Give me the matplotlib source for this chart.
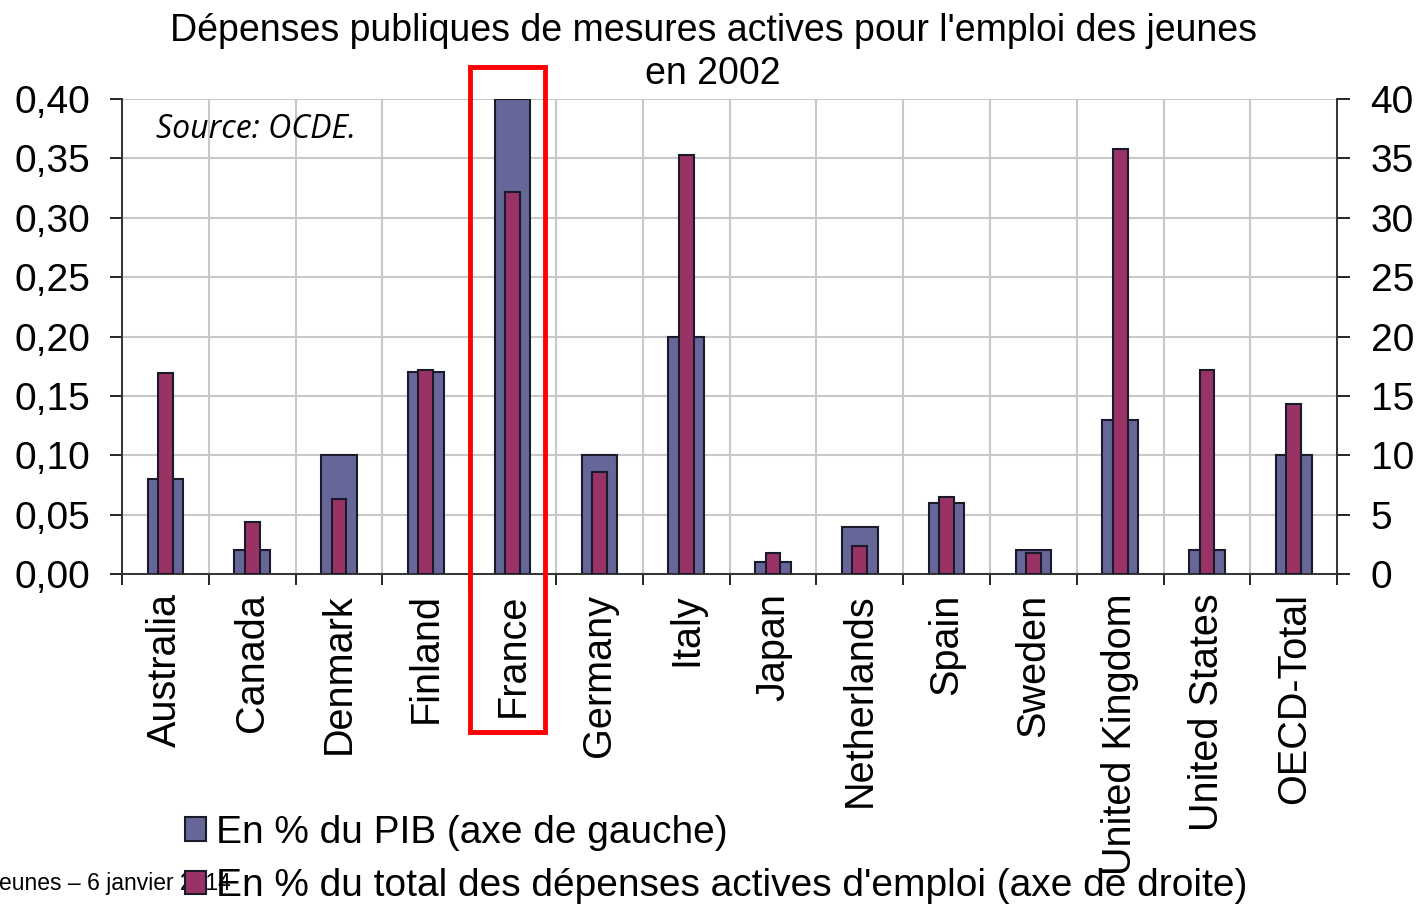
"""Youth active labour-market spending, OECD 2002: % of GDP vs % of active spending."""

import matplotlib.pyplot as plt
import numpy as np
from matplotlib.patches import Rectangle

countries = [
    "Australia", "Canada", "Denmark", "Finland", "France", "Germany", "Italy",
    "Japan", "Netherlands", "Spain", "Sweden", "United Kingdom", "United States",
    "OECD-Total",
]
pct_gdp = [0.08, 0.02, 0.10, 0.17, 0.40, 0.10, 0.20, 0.01, 0.04, 0.06, 0.02, 0.13, 0.02, 0.10]
pct_active = [16.9, 4.4, 6.3, 17.2, 32.2, 8.6, 35.3, 1.8, 2.4, 6.5, 1.8, 35.8, 17.2, 14.3]

left_ticks = [0.0, 0.05, 0.10, 0.15, 0.20, 0.25, 0.30, 0.35, 0.40]
right_ticks = [0, 5, 10, 15, 20, 25, 30, 35, 40]

BLUE = "#666699"
MAROON = "#993366"
FONT = "Liberation Sans"

plt.rcParams["font.family"] = FONT

fig = plt.figure(figsize=(14.18, 9.06), dpi=100)
ax = fig.add_axes([0.086, 0.3664, 0.857, 0.5243])
ax2 = ax.twinx()

x = np.arange(len(countries))
b1 = ax.bar(x, pct_gdp, width=0.41, color=BLUE, edgecolor="#1a1a2a", linewidth=1.5,
            zorder=3, label="En % du PIB (axe de gauche)")
b2 = ax2.bar(x, pct_active, width=0.17, color=MAROON, edgecolor="#1a1a2a", linewidth=1.5,
             zorder=3, label="En % du total des dépenses actives d'emploi (axe de droite)")

ax.set_xlim(-0.5, len(countries) - 0.5)
ax.set_ylim(0, 0.40)
ax2.set_ylim(0, 40)

ax.set_yticks(left_ticks)
ax.set_yticklabels([f"{v:.2f}".replace(".", ",") for v in left_ticks], fontsize=28)
ax2.set_yticks(right_ticks)
ax2.set_yticklabels([str(v) for v in right_ticks], fontsize=28)

# category boundaries get the tick marks and gridlines, centres get the labels
ax.set_xticks(np.arange(-0.5, len(countries)), minor=False)
ax.set_xticklabels([])
ax.set_xticks(x, minor=True)
ax.set_xticklabels(countries, minor=True, rotation=90, fontsize=28.5, va="top", ha="center")
ax.tick_params(axis="x", which="minor", length=0, pad=14)
ax.tick_params(axis="x", which="major", length=8, width=1.2, direction="out")
ax.tick_params(axis="y", length=9, width=1.2, direction="out", pad=14)
ax2.tick_params(axis="y", length=9, width=1.2, direction="out", pad=15)

ax.grid(True, which="major", color="#c8c8c8", linewidth=1.5, zorder=0)
ax.set_axisbelow(True)
ax2.set_zorder(ax.get_zorder() + 1)
ax2.patch.set_visible(False)

for a in (ax, ax2):
    a.spines["top"].set_visible(False)
    for side in ("left", "right", "bottom"):
        a.spines[side].set_linewidth(1.2)
        a.spines[side].set_color("#333333")

ax.text(0.028, 0.935, "Source: OCDE.", transform=ax.transAxes, fontsize=23,
        fontstyle="italic", family="Open Sans", va="center", ha="left")

fig.text(0.503, 0.986, "Dépenses publiques de mesures actives pour l'emploi des jeunes\nen 2002",
         ha="center", va="top", fontsize=27, linespacing=1.25)

fig.legend(handles=[b1, b2], loc="upper left", bbox_to_anchor=(0.1195, 0.118),
           frameon=False, fontsize=28, handlelength=0.55, handleheight=0.55,
           handletextpad=0.25, labelspacing=0.45, borderaxespad=0)

fig.text(0.163, 0.025, "jeunes – 6 janvier 2014", ha="right", va="center", fontsize=16.5)

# highlight France
fig.patches.append(Rectangle((470 / 1418, 1 - 732 / 906), 75 / 1418, 665 / 906,
                             transform=fig.transFigure, fill=False, edgecolor="#ff0000",
                             linewidth=3.5, zorder=10))

fig.savefig("out.png", dpi=100)
